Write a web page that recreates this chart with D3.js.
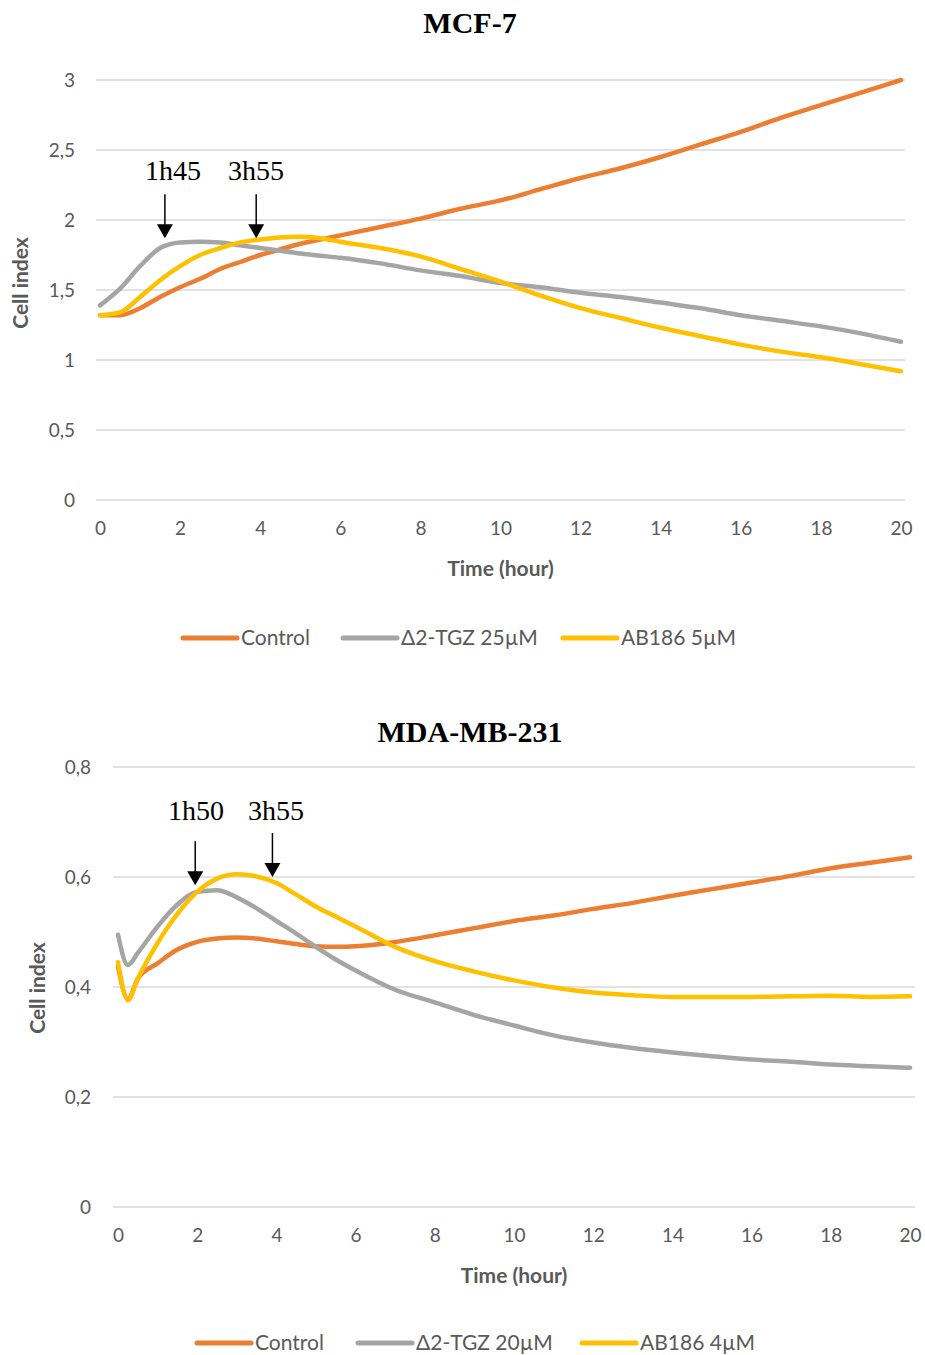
<!DOCTYPE html>
<html><head><meta charset="utf-8">
<script src="https://cdn.jsdelivr.net/npm/d3@7"></script>
<style>body{margin:0;background:#fff}svg{display:block}</style>
</head><body>
<svg id="chart" width="925" height="1355"></svg>
<script>
// ---------- DATA ----------
const seriesNames1 = ["Control", "Δ2-TGZ 25µM", "AB186 5µM"];
const seriesNames2 = ["Control", "Δ2-TGZ 20µM", "AB186 4µM"];
const colors = ["#ED7D31", "#A5A5A5", "#FFC000"];

const xTicks = [0, 2, 4, 6, 8, 10, 12, 14, 16, 18, 20];
const yTicks1 = [0, 0.5, 1, 1.5, 2, 2.5, 3];
const yTicks2 = [0, 0.2, 0.4, 0.6, 0.8];

const time1 = [0, 0.5, 1, 1.5, 2, 2.5, 3, 3.5, 4, 4.5, 5, 5.5, 6, 7, 8, 9, 10, 11, 12, 13, 14, 15, 16, 17, 18, 19, 20];
const control1 = [1.32, 1.32, 1.37, 1.45, 1.52, 1.58, 1.65, 1.70, 1.75, 1.79, 1.83, 1.86, 1.89, 1.95, 2.01, 2.08, 2.14, 2.22, 2.30, 2.37, 2.45, 2.54, 2.63, 2.73, 2.82, 2.91, 3.0];
const tgz1 = [1.39, 1.51, 1.67, 1.80, 1.84, 1.845, 1.84, 1.82, 1.80, 1.78, 1.76, 1.745, 1.73, 1.69, 1.64, 1.60, 1.55, 1.52, 1.48, 1.45, 1.41, 1.37, 1.32, 1.28, 1.24, 1.19, 1.13];
const ab1 = [1.32, 1.34, 1.45, 1.57, 1.67, 1.75, 1.80, 1.84, 1.86, 1.875, 1.88, 1.87, 1.845, 1.80, 1.74, 1.65, 1.56, 1.46, 1.37, 1.30, 1.23, 1.17, 1.11, 1.06, 1.02, 0.97, 0.92];

const time2 = [0, 0.25, 0.5, 1, 1.5, 2, 2.5, 3, 3.5, 4, 4.5, 5, 5.5, 6, 7, 8, 9, 10, 11, 12, 13, 14, 15, 16, 17, 18, 19, 20];
const control2 = [0.437, 0.378, 0.415, 0.443, 0.468, 0.482, 0.488, 0.49, 0.488, 0.483, 0.478, 0.474, 0.473, 0.474, 0.482, 0.494, 0.507, 0.52, 0.53, 0.542, 0.553, 0.566, 0.578, 0.59, 0.602, 0.616, 0.626, 0.636];
const tgz2 = [0.495, 0.44, 0.462, 0.51, 0.55, 0.573, 0.576, 0.563, 0.543, 0.52, 0.497, 0.473, 0.45, 0.43, 0.395, 0.372, 0.349, 0.33, 0.312, 0.299, 0.289, 0.281, 0.274, 0.268, 0.264, 0.259, 0.256, 0.253];
const ab2 = [0.445, 0.376, 0.415, 0.48, 0.533, 0.573, 0.597, 0.605, 0.601, 0.589, 0.568, 0.546, 0.528, 0.51, 0.473, 0.447, 0.428, 0.412, 0.399, 0.39, 0.385, 0.382, 0.382, 0.382, 0.383, 0.384, 0.382, 0.383];

const annLabels1 = ["1h45", "3h55"];
const annTimes1 = [1.62, 3.9];
const annTips1 = [1.87, 1.87];
const annLabels2 = ["1h50", "3h55"];
const annTimes2 = [1.95, 3.9];
const annTips2 = [0.585, 0.6];

// ---------- DRAW ----------
const svg = d3.select("#chart");
const fmt = d => String(d).replace(".", ",");
const SANS = "Lato, 'Open Sans', sans-serif";
const SERIF = "'Liberation Serif', 'Times New Roman', serif";

function drawChart(cfg) {
  const g = svg.append("g");
  const x = d3.scaleLinear().domain([0, 20]).range([cfg.x0, cfg.x1]);
  const y = d3.scaleLinear().domain([0, cfg.yMax]).range([cfg.y0, cfg.y1]);

  g.append("text").attr("x", cfg.titleX).attr("y", cfg.titleY)
    .attr("text-anchor", "middle").attr("font-family", SERIF)
    .attr("font-weight", "bold").attr("font-size", 30).attr("fill", "#000")
    .text(cfg.title);

  g.selectAll(".grid").data(cfg.yTicks).enter().append("line")
    .attr("x1", cfg.gx0).attr("x2", cfg.gx1)
    .attr("y1", d => y(d)).attr("y2", d => y(d))
    .attr("stroke", "#d9d9d9").attr("stroke-width", 1.5);

  const yAxis = d3.axisLeft(y).tickValues(cfg.yTicks).tickFormat(fmt).tickSize(0).tickPadding(0);
  const ya = g.append("g").attr("transform", `translate(${cfg.yLabelX},0)`).call(yAxis);
  ya.select(".domain").remove();
  ya.selectAll("text").attr("font-family", SANS).attr("font-size", 19).attr("fill", "#595959");

  const xAxis = d3.axisBottom(x).tickValues(xTicks).tickFormat(fmt).tickSize(0).tickPadding(0);
  const xa = g.append("g").attr("transform", `translate(0,${cfg.xLabelY})`).call(xAxis);
  xa.select(".domain").remove();
  xa.selectAll("text").attr("font-family", SANS).attr("font-size", 19).attr("fill", "#595959");

  g.append("text").attr("x", (cfg.gx0 + cfg.gx1) / 2).attr("y", cfg.xTitleY)
    .attr("text-anchor", "middle").attr("font-family", SANS).attr("font-weight", "bold")
    .attr("font-size", 21).attr("fill", "#595959").text("Time (hour)");
  g.append("text").attr("transform", `translate(${cfg.yTitleX},${cfg.yTitleY}) rotate(-90)`)
    .attr("text-anchor", "middle").attr("font-family", SANS).attr("font-weight", "bold")
    .attr("font-size", 21).attr("fill", "#595959").text("Cell index");

  const line = d3.line().x(d => x(d[0])).y(d => y(d[1])).curve(d3.curveMonotoneX);
  cfg.series.forEach((vals, i) => {
    g.append("path").datum(cfg.time.map((t, j) => [t, vals[j]]))
      .attr("d", line).attr("fill", "none").attr("stroke", colors[i])
      .attr("stroke-width", 4.5).attr("stroke-linejoin", "round").attr("stroke-linecap", "round");
  });

  cfg.annLabels.forEach((lab, i) => {
    const ax = x(cfg.annTimes[i]);
    const tip = y(cfg.annTips[i]);
    g.append("line").attr("x1", ax).attr("x2", ax).attr("y1", tip - 44).attr("y2", tip - 12)
      .attr("stroke", "#000").attr("stroke-width", 1.5);
    g.append("path").attr("d", `M${ax - 8},${tip - 14}L${ax + 8},${tip - 14}L${ax},${tip}Z`).attr("fill", "#000");
    g.append("text").attr("x", cfg.annTextX[i]).attr("y", cfg.annTextY)
      .attr("text-anchor", "middle").attr("font-family", SERIF).attr("font-size", 28)
      .attr("fill", "#000").text(lab);
  });

  cfg.names.forEach((nm, i) => {
    const lx = cfg.legendX[i];
    g.append("line").attr("x1", lx).attr("x2", lx + 54).attr("y1", cfg.legendY).attr("y2", cfg.legendY)
      .attr("stroke", colors[i]).attr("stroke-width", 5).attr("stroke-linecap", "round");
    g.append("text").attr("x", lx + 58).attr("y", cfg.legendY + 7)
      .attr("font-family", SANS).attr("font-size", 21).attr("fill", "#595959").text(nm);
  });
}

drawChart({
  title: "MCF-7", titleX: 470, titleY: 33,
  x0: 100, x1: 901, y0: 500, y1: 80, yMax: 3,
  gx0: 96, gx1: 905, yTicks: yTicks1, yLabelX: 75,
  xLabelY: 521, xTitleY: 576, yTitleX: 28, yTitleY: 283,
  time: time1, series: [control1, tgz1, ab1], names: seriesNames1,
  annLabels: annLabels1, annTimes: annTimes1, annTips: annTips1, annTextX: [173, 256], annTextY: 180,
  legendX: [183, 343, 563], legendY: 638
});

drawChart({
  title: "MDA-MB-231", titleX: 470, titleY: 742,
  x0: 118, x1: 910, y0: 1207, y1: 767, yMax: 0.8,
  gx0: 113, gx1: 915, yTicks: yTicks2, yLabelX: 91,
  xLabelY: 1228, xTitleY: 1283, yTitleX: 45, yTitleY: 988,
  time: time2, series: [control2, tgz2, ab2], names: seriesNames2,
  annLabels: annLabels2, annTimes: annTimes2, annTips: annTips2, annTextX: [196, 276], annTextY: 820,
  legendX: [197, 358, 582], legendY: 1343
});
</script>
</body></html>
